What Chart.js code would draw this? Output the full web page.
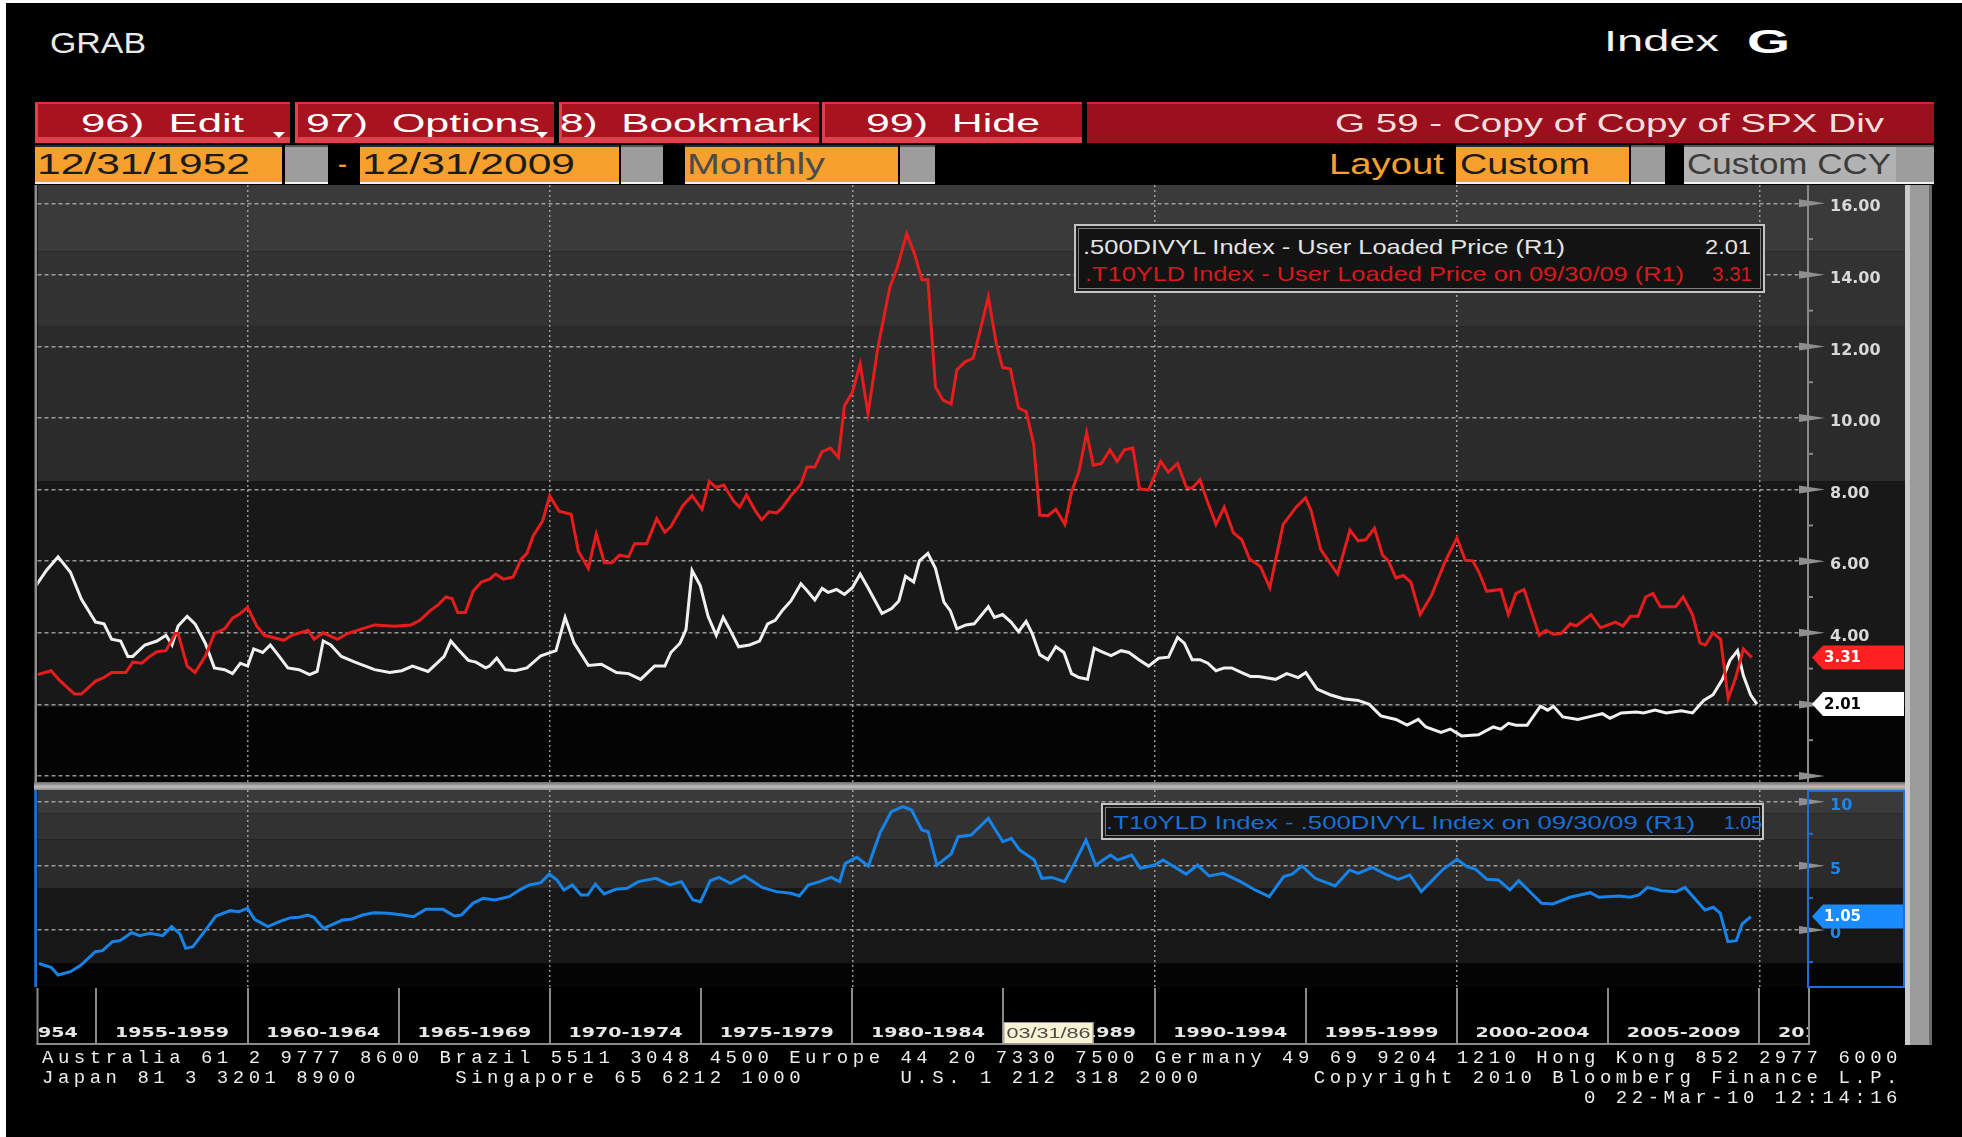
<!DOCTYPE html>
<html lang="en">
<head>
<meta charset="UTF-8">
<title>GRAB – G 59 Copy of Copy of SPX Div</title>
<script src="https://cdn.jsdelivr.net/npm/chart.js"></script>
<style>
  html, body { margin: 0; padding: 0; }
  body {
    width: 1962px; height: 1137px;
    background: #000;
    position: relative;
    overflow: hidden;
    font-family: "Liberation Sans", Arial, sans-serif;
  }
  .box { position: absolute; box-sizing: border-box; }
  .txt { position: absolute; white-space: pre; line-height: 1; transform-origin: 0 50%; }
  .btn {
    position: absolute; top: 102px; height: 41px; box-sizing: border-box;
    background: #a9121f;
    border-top: 2px solid #d83643;
    border-left: 3px solid #e4404c;
    box-shadow: inset 0 -6px 0 #e0404b;
  }
  .field {
    position: absolute; top: 145px; height: 39px; box-sizing: border-box;
    background: #f8a02e;
    border-top: 2px solid #2a2a2a;
    border-bottom: 2px solid #f2f2f2;
  }
  .grey { background: #9d9d9d; border-top-color: #555; }
  .legend {
    position: absolute; box-sizing: border-box;
    background: #131313;
    border: 2px solid #c4c4c4;
    box-shadow: inset 0 0 0 2px #1c1c1c, inset 0 0 0 3px #7d7d7d;
  }
  canvas { position: absolute; }
</style>
</head>
<body>
  <!-- white edge of the grab -->
  <div class="box" style="left:0;top:0;width:6px;height:1137px;background:#fff"></div>
  <div class="box" style="left:0;top:0;width:1962px;height:3px;background:#fff"></div>

  <!-- menu bar -->
  <div class="btn" style="left:35px;width:255px"></div>
  <div class="btn" style="left:295px;width:259px"></div>
  <div class="btn" style="left:559px;width:260px"></div>
  <div class="btn" style="left:822px;width:260px"></div>
  <div class="box" style="left:1087px;top:102px;width:847px;height:41px;background:#9c0f1d;border-top:2px solid #c72a37"></div>
  <div class="box" style="left:273px;top:132px;width:0;height:0;border-left:6px solid transparent;border-right:6px solid transparent;border-top:6px solid #fff"></div>
  <div class="box" style="left:536px;top:132px;width:0;height:0;border-left:6px solid transparent;border-right:6px solid transparent;border-top:6px solid #fff"></div>

  <!-- field bar -->
  <div class="field" style="left:35px;width:247px"></div>
  <div class="field grey" style="left:285px;width:43px"></div>
  <div class="field" style="left:360px;width:259px"></div>
  <div class="field grey" style="left:621px;width:42px"></div>
  <div class="field" style="left:685px;width:213px"></div>
  <div class="field grey" style="left:900px;width:35px"></div>
  <div class="field" style="left:1456px;width:173px"></div>
  <div class="field grey" style="left:1631px;width:34px"></div>
  <div class="field grey" style="left:1684px;width:212px;background:#b2b2b2"></div>
  <div class="field grey" style="left:1896px;width:38px"></div>

  <!-- chart panels -->
  <canvas id="yieldChart" width="1871" height="598" style="left:34px;top:185px"></canvas>
  <div class="box" style="left:34px;top:782px;width:1871px;height:8px;background:linear-gradient(#6e6e6e,#bdbdbd 60%,#8a8a8a)"></div>
  <canvas id="spreadChart" width="1871" height="256" style="left:34px;top:790px"></canvas>
  <div class="box" style="left:1905px;top:185px;width:27px;height:860px;background:linear-gradient(90deg,#cacaca 0,#cacaca 5px,#9b9b9b 5px,#9b9b9b 24px,#6a6a6a 24px)"></div>

  <!-- legends -->
  <div class="legend" style="left:1074px;top:224px;width:691px;height:69px"></div>
  <div class="legend" style="left:1101px;top:803px;width:663px;height:37px"></div>

<script>
// 10Y Treasury yield (.T10YLD), monthly
const redYears = [
  1953.05, 1953.5, 1953.75, 1954.27, 1954.5, 1954.97, 1955.25, 1955.5, 1955.97, 1956.2,
  1956.5, 1956.76, 1957.0, 1957.3, 1957.6, 1957.7, 1958.0, 1958.26, 1958.6, 1958.9,
  1959.24, 1959.5, 1959.76, 1960.0, 1960.3, 1960.55, 1961.2, 1961.46, 1962.0, 1962.2,
  1962.5, 1962.97, 1963.3, 1963.7, 1964.2, 1964.86, 1965.4, 1965.7, 1966.04, 1966.3,
  1966.56, 1966.76, 1966.95, 1967.2, 1967.46, 1967.73, 1968.0, 1968.2, 1968.46, 1968.78,
  1969.05, 1969.24, 1969.44, 1969.76, 1969.99, 1970.3, 1970.7, 1970.94, 1971.27, 1971.53,
  1971.8, 1972.05, 1972.3, 1972.6, 1972.8, 1973.2, 1973.53, 1973.8, 1974.0, 1974.4,
  1974.7, 1975.03, 1975.27, 1975.5, 1975.75, 1976.08, 1976.27, 1976.5, 1976.8, 1977.0,
  1977.25, 1977.5, 1977.7, 1977.97, 1978.3, 1978.5, 1978.76, 1979.0, 1979.28, 1979.54,
  1979.74, 1980.0, 1980.26, 1980.52, 1980.85, 1981.24, 1981.5, 1981.8, 1982.07, 1982.3,
  1982.5, 1982.75, 1983.0, 1983.27, 1983.46, 1983.73, 1984.0, 1984.5, 1984.77, 1984.97,
  1985.23, 1985.5, 1985.75, 1986.0, 1986.2, 1986.47, 1986.73, 1987.03, 1987.25, 1987.5,
  1987.75, 1987.97, 1988.24, 1988.52, 1988.76, 1989.0, 1989.28, 1989.5, 1989.8, 1990.2,
  1990.45, 1990.76, 1991.05, 1991.24, 1991.5, 1991.7, 1992.03, 1992.3, 1992.6, 1992.88,
  1993.14, 1993.32, 1993.5, 1993.81, 1994.25, 1994.68, 1994.99, 1995.18, 1995.49, 1996.05,
  1996.46, 1996.73, 1996.98, 1997.27, 1997.54, 1997.73, 1997.98, 1998.22, 1998.47, 1998.78,
  1999.16, 1999.59, 2000.0, 2000.27, 2000.52, 2000.73, 2000.98, 2001.45, 2001.7, 2001.95,
  2002.22, 2002.45, 2002.72, 2002.94, 2003.19, 2003.44, 2003.75, 2003.94, 2004.43, 2004.75,
  2005.24, 2005.49, 2005.74, 2005.99, 2006.24, 2006.48, 2006.73, 2007.23, 2007.48, 2007.79,
  2008.04, 2008.22, 2008.47, 2008.72, 2008.97, 2009.22, 2009.47, 2009.75
];
const redVals = [
  2.83, 2.94, 2.70, 2.29, 2.29, 2.65, 2.75, 2.89, 2.89, 3.18,
  3.15, 3.34, 3.47, 3.50, 3.98, 3.98, 3.07, 2.89, 3.34, 3.98,
  4.11, 4.41, 4.54, 4.71, 4.19, 3.93, 3.79, 3.93, 4.07, 3.82,
  4.00, 3.82, 3.98, 4.09, 4.22, 4.18, 4.22, 4.35, 4.62, 4.78,
  5.00, 4.96, 4.57, 4.57, 5.16, 5.42, 5.50, 5.64, 5.50, 5.56,
  6.06, 6.22, 6.70, 7.13, 7.83, 7.40, 7.31, 6.28, 5.80, 6.76,
  5.96, 5.96, 6.17, 6.12, 6.49, 6.49, 7.19, 6.81, 6.97, 7.56,
  7.83, 7.45, 8.23, 8.06, 8.13, 7.67, 7.51, 7.85, 7.40, 7.16,
  7.38, 7.35, 7.51, 7.83, 8.15, 8.63, 8.63, 9.06, 9.16, 8.90,
  10.34, 10.71, 11.51, 10.12, 11.99, 13.65, 14.24, 15.15, 14.56, 13.86,
  13.86, 10.87, 10.50, 10.39, 11.35, 11.57, 11.67, 13.38, 12.05, 11.41,
  11.37, 10.28, 10.18, 9.27, 7.29, 7.27, 7.45, 7.03, 7.93, 8.52,
  9.59, 8.68, 8.73, 9.11, 8.79, 9.11, 9.16, 8.02, 7.99, 8.79,
  8.49, 8.73, 8.06, 8.04, 8.28, 7.77, 7.03, 7.51, 6.80, 6.60,
  6.06, 5.96, 5.85, 5.26, 7.03, 7.51, 7.77, 7.40, 6.33, 5.64,
  6.87, 6.57, 6.60, 6.92, 6.17, 6.01, 5.53, 5.60, 5.42, 4.51,
  5.05, 5.96, 6.65, 6.03, 6.01, 5.69, 5.16, 5.21, 4.51, 5.10,
  5.21, 4.62, 3.93, 4.07, 3.96, 3.98, 4.25, 4.19, 4.51, 4.14,
  4.30, 4.19, 4.46, 4.46, 5.00, 5.10, 4.73, 4.73, 5.00, 4.51,
  3.71, 3.66, 4.00, 3.82, 2.16, 2.75, 3.55, 3.31
];

// S&P 500 dividend yield (.500DIVYL)
const whiteYears = [
  1953.0, 1953.35, 1953.73, 1954.14, 1954.5, 1954.97, 1955.25, 1955.5, 1955.8, 1956.04,
  1956.2, 1956.6, 1957.0, 1957.3, 1957.5, 1957.7, 1958.0, 1958.26, 1958.6, 1958.9,
  1959.24, 1959.5, 1959.76, 1960.0, 1960.2, 1960.5, 1960.75, 1961.0, 1961.33, 1961.7,
  1962.05, 1962.3, 1962.5, 1962.75, 1963.1, 1963.55, 1964.2, 1964.7, 1965.1, 1965.45,
  1965.97, 1966.3, 1966.5, 1966.72, 1966.95, 1967.3, 1967.55, 1967.87, 1968.0, 1968.24,
  1968.52, 1968.85, 1969.24, 1969.7, 1970.2, 1970.5, 1970.8, 1971.27, 1971.7, 1972.2,
  1972.6, 1973.0, 1973.46, 1973.8, 1974.0, 1974.3, 1974.5, 1974.7, 1974.97, 1975.23,
  1975.5, 1975.73, 1975.95, 1976.24, 1976.6, 1976.93, 1977.2, 1977.45, 1977.7, 1977.97,
  1978.3, 1978.5, 1978.76, 1979.0, 1979.2, 1979.48, 1979.74, 1980.0, 1980.26, 1980.52,
  1980.98, 1981.3, 1981.54, 1981.76, 1982.03, 1982.22, 1982.5, 1982.75, 1983.03, 1983.24,
  1983.46, 1983.76, 1984.03, 1984.5, 1984.7, 1984.97, 1985.25, 1985.5, 1985.75, 1985.95,
  1986.2, 1986.47, 1986.73, 1987.0, 1987.25, 1987.5, 1987.78, 1988.0, 1988.26, 1988.56,
  1988.89, 1989.15, 1989.48, 1989.8, 1990.13, 1990.46, 1990.76, 1990.98, 1991.24, 1991.5,
  1991.76, 1992.03, 1992.3, 1992.55, 1992.88, 1993.17, 1993.44, 1994.0, 1994.37, 1994.75,
  1995.0, 1995.37, 1995.8, 1996.24, 1996.73, 1997.1, 1997.48, 1997.98, 1998.35, 1998.72,
  1998.97, 1999.47, 1999.78, 2000.15, 2000.71, 2001.2, 2001.45, 2001.7, 2001.95, 2002.32,
  2002.76, 2003.0, 2003.19, 2003.5, 2004.0, 2004.5, 2004.81, 2005.06, 2005.43, 2005.93,
  2006.17, 2006.55, 2006.92, 2007.42, 2007.79, 2008.16, 2008.47, 2008.78, 2009.03, 2009.28,
  2009.47, 2009.71, 2009.92
];
const whiteVals = [
  5.32, 5.75, 6.12, 5.69, 4.94, 4.30, 4.25, 3.82, 3.77, 3.34,
  3.34, 3.66, 3.77, 3.93, 3.66, 4.19, 4.46, 4.25, 3.71, 3.02,
  2.97, 2.86, 3.15, 3.07, 3.55, 3.45, 3.66, 3.39, 3.02, 2.97,
  2.83, 2.92, 3.77, 3.66, 3.34, 3.18, 2.97, 2.89, 2.94, 3.07,
  2.92, 3.18, 3.34, 3.77, 3.55, 3.23, 3.18, 3.02, 3.07, 3.29,
  2.97, 2.94, 3.02, 3.36, 3.50, 4.43, 3.71, 3.09, 3.12, 2.89,
  2.86, 2.70, 3.07, 3.07, 3.45, 3.71, 4.09, 5.74, 5.32, 4.46,
  3.93, 4.43, 4.09, 3.61, 3.66, 3.77, 4.25, 4.35, 4.64, 4.89,
  5.37, 5.18, 4.92, 5.24, 5.13, 5.21, 5.07, 5.26, 5.64, 5.26,
  4.54, 4.68, 4.89, 5.58, 5.42, 6.01, 6.22, 5.80, 4.86, 4.62,
  4.11, 4.22, 4.25, 4.73, 4.43, 4.51, 4.30, 4.03, 4.32, 3.98,
  3.39, 3.25, 3.61, 3.45, 2.86, 2.75, 2.70, 3.57, 3.47, 3.36,
  3.50, 3.45, 3.25, 3.07, 3.29, 3.32, 3.87, 3.71, 3.25, 3.25,
  3.15, 2.94, 3.02, 3.02, 2.89, 2.78, 2.78, 2.70, 2.86, 2.75,
  2.89, 2.43, 2.27, 2.16, 2.11, 2.00, 1.68, 1.58, 1.42, 1.58,
  1.37, 1.22, 1.31, 1.12, 1.15, 1.37, 1.31, 1.47, 1.42, 1.42,
  1.95, 1.84, 1.95, 1.65, 1.58, 1.68, 1.74, 1.61, 1.76, 1.79,
  1.76, 1.84, 1.76, 1.82, 1.76, 2.11, 2.27, 2.70, 3.23, 3.50,
  2.81, 2.27, 2.01
];

// .T10YLD - .500DIVYL spread (lower panel)
const spreadYears = [
  1953.1, 1953.25, 1953.5, 1953.73, 1954.14, 1954.49, 1954.96, 1955.2, 1955.53, 1955.78,
  1956.16, 1956.43, 1956.77, 1957.19, 1957.49, 1957.76, 1957.95, 1958.19, 1958.57, 1958.95,
  1959.43, 1959.71, 1960.0, 1960.23, 1960.67, 1961.05, 1961.43, 1961.71, 1961.99, 1962.19,
  1962.51, 1963.14, 1963.42, 1963.8, 1964.18, 1964.66, 1965.13, 1965.48, 1965.89, 1966.46,
  1966.84, 1967.07, 1967.45, 1967.79, 1968.17, 1968.65, 1969.03, 1969.32, 1969.7, 1969.98,
  1970.23, 1970.46, 1970.74, 1971.03, 1971.25, 1971.5, 1971.79, 1972.17, 1972.55, 1972.93,
  1973.5, 1973.97, 1974.35, 1974.73, 1974.98, 1975.3, 1975.59, 1975.97, 1976.44, 1977.02,
  1977.49, 1977.97, 1978.25, 1978.54, 1978.92, 1979.3, 1979.58, 1979.77, 1980.15, 1980.53,
  1980.91, 1981.29, 1981.67, 1981.96, 1982.3, 1982.51, 1982.8, 1983.27, 1983.5, 1983.93,
  1984.5, 1984.98, 1985.26, 1985.54, 1986.02, 1986.27, 1986.59, 1987.02, 1987.35, 1987.73,
  1988.05, 1988.54, 1988.77, 1989.24, 1989.53, 1990.0, 1990.28, 1991.04, 1991.42, 1991.8,
  1992.27, 1992.84, 1993.32, 1993.79, 1994.27, 1994.55, 1994.87, 1995.31, 1995.97, 1996.45,
  1996.73, 1997.2, 1997.68, 1998.06, 1998.44, 1998.82, 1999.54, 2000.0, 2000.33, 2000.62,
  2000.99, 2001.37, 2001.75, 2002.04, 2002.8, 2003.17, 2003.74, 2004.41, 2004.69, 2005.36,
  2005.73, 2006.02, 2006.3, 2006.78, 2007.25, 2007.54, 2008.2, 2008.48, 2008.71, 2008.96,
  2009.24, 2009.43, 2009.72
];
const spreadVals = [
  -2.60, -2.73, -2.91, -3.51, -3.25, -2.73, -1.69, -1.61, -0.91, -0.83,
  -0.21, -0.44, -0.26, -0.44, 0.26, -0.31, -1.43, -1.30, -0.13, 1.09,
  1.51, 1.43, 1.69, 0.83, 0.26, 0.65, 0.96, 0.99, 1.17, 0.99,
  0.13, 0.78, 0.83, 1.17, 1.35, 1.30, 1.17, 1.04, 1.61, 1.61,
  1.09, 1.17, 2.08, 2.47, 2.34, 2.60, 3.17, 3.51, 3.69, 4.36,
  3.90, 3.12, 3.51, 2.73, 2.73, 3.58, 2.81, 3.17, 3.25, 3.77,
  4.03, 3.51, 3.77, 2.34, 2.21, 3.84, 4.10, 3.64, 4.21, 3.32,
  2.99, 2.86, 2.65, 3.51, 3.77, 4.10, 3.77, 5.19, 5.66, 4.99,
  7.53, 9.22, 9.61, 9.35, 7.79, 7.66, 5.06, 5.92, 7.27, 7.40,
  8.70, 6.88, 7.14, 6.23, 5.45, 4.03, 4.10, 3.77, 5.19, 7.01,
  5.06, 5.84, 5.45, 5.84, 4.81, 5.06, 5.45, 4.36, 5.06, 4.21,
  4.42, 3.77, 3.12, 2.60, 4.16, 4.36, 4.99, 4.03, 3.43, 4.68,
  4.42, 4.88, 4.29, 3.95, 4.29, 2.99, 4.73, 5.51, 4.94, 4.73,
  3.95, 3.90, 3.12, 3.84, 2.08, 2.03, 2.55, 2.91, 2.55, 2.65,
  2.55, 2.73, 3.32, 3.06, 2.99, 3.32, 1.56, 1.77, 1.30, -0.91,
  -0.83, 0.47, 1.05
];

// axis ticks and the five-year period labels under the chart
const decadeTicks = [1960, 1970, 1980, 1990, 2000, 2010];
const yieldTicks = [0, 2, 4, 6, 8, 10, 12, 14, 16];
const spreadTicks = [0, 5, 10];
const periodStarts = [1950, 1955, 1960, 1965, 1970, 1975, 1980, 1985, 1990, 1995, 2000, 2005, 2010];
const periodLabels = ['1950-1954', '1955-1959', '1960-1964', '1965-1969', '1970-1974', '1975-1979',
  '1980-1984', '1985-1989', '1990-1994', '1995-1999', '2000-2004', '2005-2009', '2010-2014'];
const cursorDate = '03/31/86';

const last = arr => arr[arr.length - 1];
const pts = (xs, ys) => xs.map((x, i) => ({ x, y: ys[i] }));

// ---- page text (scaled to the widths of the Bloomberg font) ----
function place(text, x, y, w, css) {
  const el = document.createElement('div');
  el.className = 'txt';
  el.textContent = text;
  Object.assign(el.style, { fontSize: '25px', color: '#fff' }, css, { left: x + 'px', top: y + 'px' });
  document.body.appendChild(el);
  const natural = el.getBoundingClientRect().width;
  el.style.transform = `translateY(-50%) scaleX(${w / natural})`;
}

place('GRAB', 50, 43, 96, { fontSize: '29px', color: '#e9e9e9' });
place('Index', 1604, 41, 115, { fontSize: '30px', color: '#f2f2f2' });
place('G', 1747, 41, 43, { fontSize: '33px', fontWeight: 'bold' });

place('96)  Edit', 81, 123, 163, {});
place('97)  Options', 306, 123, 234, {});
place('8)  Bookmark', 560, 123, 252, {});
place('99)  Hide', 866, 123, 174, {});
place('G 59 - Copy of Copy of SPX Div', 1335, 123, 549, { color: '#f3dede' });

place('12/31/1952', 37, 164, 213, { fontSize: '29px', color: '#1c1c1c' });
place('-', 338, 164, 9, { fontSize: '29px', color: '#f8a02e' });
place('12/31/2009', 362, 164, 213, { fontSize: '29px', color: '#1c1c1c' });
place('Monthly', 687, 164, 138, { fontSize: '29px', color: '#4b4b4b' });
place('Layout', 1329, 164, 115, { fontSize: '29px', color: '#f8a02e' });
place('Custom', 1460, 164, 130, { fontSize: '29px', color: '#1c1c1c' });
place('Custom CCY', 1687, 164, 204, { fontSize: '29px', color: '#3c3c3c' });

place('.500DIVYL Index - User Loaded Price (R1)', 1083, 246, 482, { fontSize: '21px', color: '#e4e4e4' });
place(last(whiteVals).toFixed(2), 1705, 246, 46, { fontSize: '21px', color: '#e4e4e4' });
place('.T10YLD Index - User Loaded Price on 09/30/09 (R1)', 1085, 273, 599, { fontSize: '21px', color: '#d41a1a' });
place(last(redVals).toFixed(2), 1712, 273, 40, { fontSize: '21px', color: '#d41a1a' });
place('.T10YLD Index - .500DIVYL Index on 09/30/09 (R1)', 1106, 822, 589, { fontSize: '19px', color: '#1a6fd6' });
place(last(spreadVals).toFixed(2), 1724, 822, 38, { fontSize: '19px', color: '#1a6fd6' });

const mono = { fontFamily: '"Liberation Mono", "DejaVu Sans Mono", monospace', fontSize: '19px', letterSpacing: '4.5px', color: '#ececec' };
place('Australia 61 2 9777 8600 Brazil 5511 3048 4500 Europe 44 20 7330 7500 Germany 49 69 9204 1210 Hong Kong 852 2977 6000', 42, 1058, 1860, mono);
place('Japan 81 3 3201 8900      Singapore 65 6212 1000      U.S. 1 212 318 2000       Copyright 2010 Bloomberg Finance L.P.', 42, 1078, 1860, mono);
place(' '.repeat(97) + '0 22-Mar-10 12:14:16', 42, 1098, 1860, mono);

// ---- plugins ----
const bands = {
  id: 'bands',
  beforeDraw(chart, args, o) {
    const { ctx, chartArea: a, scales: { y } } = chart;
    ctx.save();
    o.list.forEach(b => {
      const top = Math.max(a.top, y.getPixelForValue(b.to));
      const bottom = Math.min(a.bottom, y.getPixelForValue(b.from));
      ctx.fillStyle = b.color;
      ctx.fillRect(a.left, top, chart.width - a.left, bottom - top);
    });
    ctx.fillStyle = o.frame;
    ctx.fillRect(0.5, 0, 2.5, a.bottom);
    ctx.restore();
  }
};

const rightAxis = {
  id: 'rightAxis',
  afterDraw(chart, args, o) {
    const { ctx, chartArea: a, scales: { y } } = chart;
    const ax = a.right;
    ctx.save();
    ctx.fillStyle = o.lineColor;
    ctx.fillRect(ax - 1, a.top, 2, a.bottom - a.top);
    for (let v = o.minorStart; v < y.max; v += o.minorStep) {
      if (v <= y.min) continue;
      ctx.fillRect(ax, y.getPixelForValue(v) - 1, 5, 2);
    }
    ctx.fillStyle = '#8e8e8e';
    y.ticks.forEach(t => {
      const py = y.getPixelForValue(t.value);
      ctx.beginPath();
      ctx.moveTo(ax - 9, py - 4);
      ctx.lineTo(ax + 17, py);
      ctx.lineTo(ax - 9, py + 4);
      ctx.closePath();
      ctx.fill();
    });
    ctx.font = 'bold 15px "DejaVu Sans"';
    ctx.textBaseline = 'middle';
    o.flags.forEach(f => {
      const py = y.getPixelForValue(f.value);
      ctx.fillStyle = f.fill;
      ctx.beginPath();
      ctx.moveTo(ax + 4, py);
      ctx.lineTo(ax + 15, py - 12);
      ctx.lineTo(chart.width - 1, py - 12);
      ctx.lineTo(chart.width - 1, py + 12);
      ctx.lineTo(ax + 15, py + 12);
      ctx.closePath();
      ctx.fill();
      ctx.fillStyle = f.color;
      ctx.fillText(f.value.toFixed(2), ax + 16, py + 1);
    });
    ctx.restore();
  }
};

const periodRow = {
  id: 'periodRow',
  afterDraw(chart) {
    const { ctx, chartArea: a, scales: { x } } = chart;
    const top = a.bottom + 1, bottom = a.bottom + 58, midY = a.bottom + 46;
    ctx.save();
    ctx.fillStyle = '#8a8a8a';
    ctx.fillRect(a.left - 1, bottom - 2, a.right - a.left + 3, 2);
    ctx.fillRect(a.left - 1, top, 2, bottom - top);
    ctx.fillRect(a.right, top, 2, bottom - top);
    ctx.beginPath();
    ctx.rect(a.left + 1, top, a.right - a.left - 1, bottom - top);
    ctx.clip();
    ctx.font = 'bold 14px "DejaVu Sans"';
    const stretch = 114 / ctx.measureText('1955-1959').width;
    ctx.textAlign = 'center';
    ctx.textBaseline = 'middle';
    periodStarts.forEach((p, i) => {
      const x0 = x.getPixelForValue(p), x1 = x.getPixelForValue(p + 5);
      ctx.fillStyle = '#8a8a8a';
      ctx.fillRect(Math.round(x0) - 1, top, 2, bottom - top);
      ctx.save();
      ctx.translate((x0 + x1) / 2, midY);
      ctx.scale(stretch, 1);
      ctx.fillStyle = '#e6e6e6';
      ctx.fillText(periodLabels[i], 0, 0);
      ctx.restore();
    });
    // date cursor tag
    const cx = x.getPixelForValue(1985);
    ctx.fillStyle = '#fbf4d4';
    ctx.fillRect(cx, a.bottom + 35, 90, 22);
    ctx.strokeStyle = '#9a9a9a';
    ctx.lineWidth = 1;
    ctx.strokeRect(cx + 0.5, a.bottom + 35.5, 89, 21);
    ctx.font = '15px "Liberation Sans"';
    const s2 = 84 / ctx.measureText(cursorDate).width;
    ctx.save();
    ctx.translate(cx + 45, a.bottom + 46.5);
    ctx.scale(s2, 1);
    ctx.fillStyle = '#4a4a4a';
    ctx.fillText(cursorDate, 0, 0);
    ctx.restore();
    ctx.restore();
    // blue frame of the active panel
    ctx.save();
    ctx.strokeStyle = '#1c6fd6';
    ctx.lineWidth = 2;
    ctx.beginPath();
    ctx.moveTo(1.5, 0); ctx.lineTo(1.5, a.bottom);
    ctx.stroke();
    ctx.strokeRect(a.right, 1, chart.width - a.right - 1, a.bottom - 1);
    ctx.restore();
  }
};

// right axis keeps a fixed width and claims no extra room above/below the plot
const fixAxis = s => { s.width = 97; s.paddingTop = 0; s.paddingBottom = 0; };

const gridX = {
  type: 'linear', min: 1953.05, max: 2011.61,
  afterBuildTicks: s => { s.ticks = decadeTicks.map(v => ({ value: v })); },
  ticks: { display: false },
  grid: { color: 'rgba(185,185,185,0.8)', lineWidth: 1.5, drawTicks: false },
  border: { display: false, dash: [2, 3] }
};

new Chart(document.getElementById('yieldChart'), {
  type: 'line',
  data: {
    datasets: [
      { label: '.T10YLD Index', data: pts(redYears, redVals), borderColor: '#e81c1c', borderWidth: 3, pointRadius: 0, tension: 0 },
      { label: '.500DIVYL Index', data: pts(whiteYears, whiteVals), borderColor: '#f0f0f0', borderWidth: 3, pointRadius: 0, tension: 0 }
    ]
  },
  options: {
    responsive: false, animation: false, events: [],
    layout: { padding: { left: 3.5 } },
    plugins: {
      legend: { display: false }, tooltip: { enabled: false },
      bands: {
        frame: '#8d8d8d',
        list: [
          { from: -1, to: 1.93, color: '#040404' },
          { from: 1.93, to: 8.24, color: '#181818' },
          { from: 8.24, to: 12.57, color: '#2b2b2b' },
          { from: 12.57, to: 14.66, color: '#323232' },
          { from: 14.66, to: 17, color: '#3a3a3a' }
        ]
      },
      rightAxis: {
        lineColor: '#8a8a8a', minorStart: 1, minorStep: 2,
        flags: [
          { value: last(redVals), fill: '#ff2020', color: '#fff' },
          { value: last(whiteVals), fill: '#ffffff', color: '#000' }
        ]
      }
    },
    scales: {
      x: gridX,
      y: {
        position: 'right', min: -0.196, max: 16.51,
        afterBuildTicks: s => { s.ticks = yieldTicks.map(v => ({ value: v })); },
        afterFit: fixAxis,
        ticks: {
          color: '#d8d8d8', padding: 22, labelOffset: 4,
          font: { family: 'DejaVu Sans', weight: 'bold', size: 16 },
          callback: v => v === 0 ? '' : v.toFixed(2)
        },
        grid: { color: 'rgba(185,185,185,0.8)', lineWidth: 1.5, drawTicks: false },
        border: { display: false, dash: [4, 3] }
      }
    }
  },
  plugins: [bands, rightAxis]
});

new Chart(document.getElementById('spreadChart'), {
  type: 'line',
  data: {
    datasets: [
      { label: '.T10YLD Index - .500DIVYL Index', data: pts(spreadYears, spreadVals), borderColor: '#1683e8', borderWidth: 3, pointRadius: 0, tension: 0 }
    ]
  },
  options: {
    responsive: false, animation: false, events: [],
    layout: { padding: { left: 3.5, bottom: 59 } },
    plugins: {
      legend: { display: false }, tooltip: { enabled: false },
      bands: {
        frame: '#1c6fd6',
        list: [
          { from: -5, to: -2.6, color: '#040404' },
          { from: -2.6, to: 3.25, color: '#171717' },
          { from: 3.25, to: 7.07, color: '#2b2b2b' },
          { from: 7.07, to: 9.1, color: '#323232' },
          { from: 9.1, to: 12, color: '#3a3a3a' }
        ]
      },
      rightAxis: {
        lineColor: '#1c6fd6', minorStart: -2.5, minorStep: 5,
        flags: [ { value: last(spreadVals), fill: '#1a8cff', color: '#fff' } ]
      }
    },
    scales: {
      x: gridX,
      y: {
        position: 'right', min: -4.44, max: 10.91,
        afterBuildTicks: s => { s.ticks = spreadTicks.map(v => ({ value: v })); },
        afterFit: fixAxis,
        ticks: {
          color: '#1e84f0', padding: 22, labelOffset: 4,
          font: { family: 'DejaVu Sans', weight: 'bold', size: 16 },
          callback: v => String(v)
        },
        grid: { color: 'rgba(185,185,185,0.8)', lineWidth: 1.5, drawTicks: false },
        border: { display: false, dash: [4, 3] }
      }
    }
  },
  plugins: [bands, rightAxis, periodRow]
});
</script>
</body>
</html>
